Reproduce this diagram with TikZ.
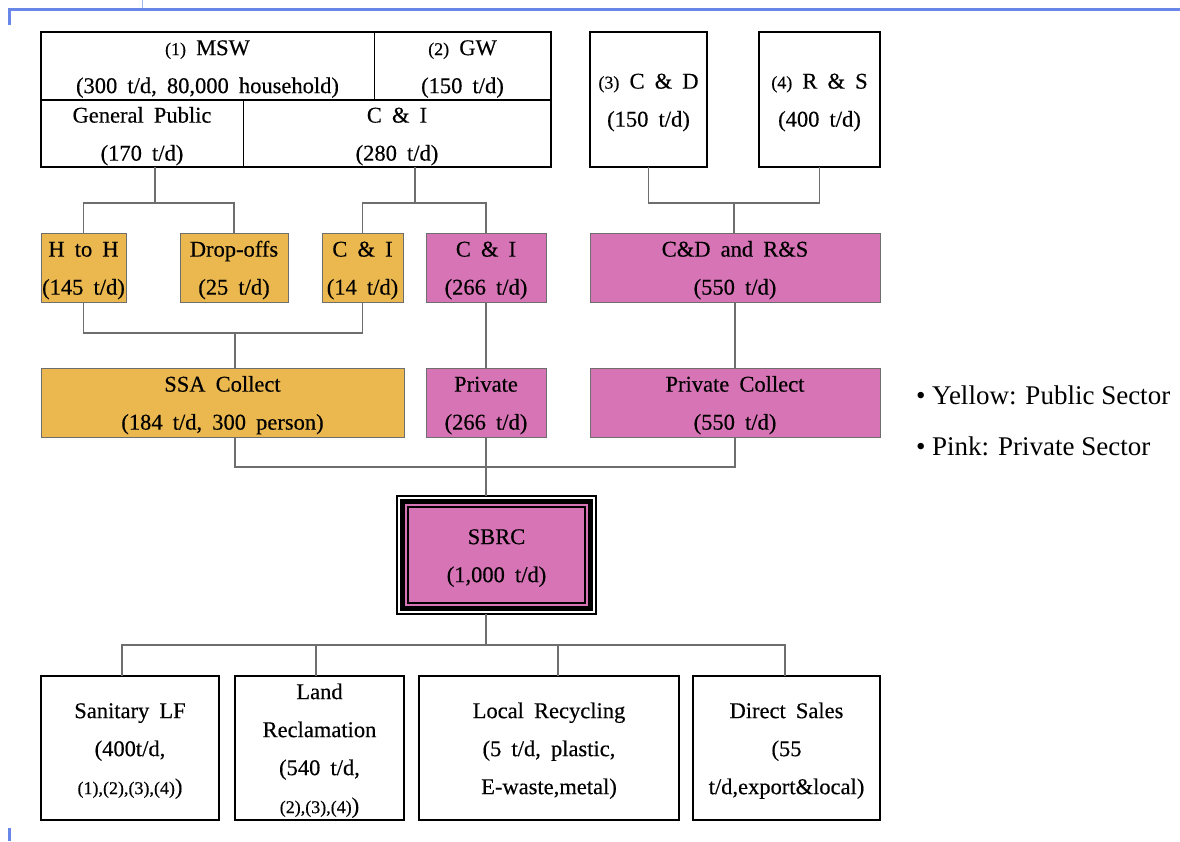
\documentclass[tikz,border=0pt]{standalone}
\usepackage{fontspec}
\setmainfont{Liberation Serif}[WordSpace=1.8, FakeBold=0.4]
\newfontfamily\legendfont{Liberation Serif}
\usetikzlibrary{calc}
\definecolor{pubY}{RGB}{235,184,80}
\definecolor{privP}{RGB}{214,116,182}
\definecolor{frameB}{RGB}{105,135,230}
\definecolor{linkG}{RGB}{110,110,110}
\newcommand{\numf}{\fontsize{18}{38}\selectfont}
\newcommand{\topstrut}{\rule{0pt}{21pt}}
\tikzset{
 every node/.style={inner sep=0pt, outer sep=0pt},
 txt/.style={font=\fontsize{22.5}{38}\selectfont, align=center},
 cell/.style={txt, rectangle},
 box/.style={txt, rectangle, draw=black, line width=2pt},
 ybox/.style={txt, rectangle, draw=linkG, line width=1pt, fill=pubY},
 pbox/.style={txt, rectangle, draw=linkG, line width=1pt, fill=privP},
 conn/.style={draw=linkG, line width=1.2pt},
 legtxt/.style={anchor=west, font=\legendfont\fontsize{27}{30}\selectfont},
}
\begin{document}
\begin{tikzpicture}[x=1pt,y=-1pt]
\useasboundingbox (0,0) rectangle (1180,841);
% page frame marks
\draw[frameB, line width=3pt] (9,25) -- (9,9.5) -- (1180,9.5);
\draw[frameB!60, line width=1pt] (142,0) -- (142,8);
\draw[frameB, line width=3pt] (9,828) -- (9,841);

% top table
\node[cell, minimum width=333, minimum height=68] (MSW) at (207.5,66) {\topstrut{\numf(1)} MSW\\(300 t/d, 80,000 household)};
\node[cell, minimum width=177, minimum height=68] (GW) at (462.5,66) {\topstrut{\numf(2)} GW\\(150 t/d)};
\node[cell, minimum width=202, minimum height=67] (GP) at (142,133.5) {\topstrut General Public\\(170 t/d)};
\node[cell, minimum width=308, minimum height=67] (CI) at (397,133.5) {\topstrut C \& I\\(280 t/d)};
\draw[black, line width=2pt] (MSW.north west) rectangle (CI.south east);
\draw[black, line width=2pt] (MSW.south west) -- (GW.south east);
\draw[black, line width=0.8pt] (MSW.north east) -- (MSW.south east);
\draw[black, line width=0.8pt] (GP.north east) -- (GP.south east);

\node[box, minimum width=117, minimum height=135] (CD) at (648.5,99.5) {\topstrut{\numf(3)} C \& D\\(150 t/d)};
\node[box, minimum width=121, minimum height=135] (RS) at (819.5,99.5) {\topstrut{\numf(4)} R \& S\\(400 t/d)};

% row 2
\node[ybox, minimum width=85, minimum height=69] (HH) at (83.5,267.5) {\topstrut H to H\\(145 t/d)};
\node[ybox, minimum width=108, minimum height=69] (DO) at (234,267.5) {\topstrut Drop-offs\\(25 t/d)};
\node[ybox, minimum width=81, minimum height=69] (CIY) at (362.5,267.5) {\topstrut C \& I\\(14 t/d)};
\node[pbox, minimum width=120, minimum height=69] (CIP) at (486,267.5) {\topstrut C \& I\\(266 t/d)};
\node[pbox, minimum width=290, minimum height=69] (CDRS) at (735,267.5) {\topstrut C\&D and R\&S\\(550 t/d)};

% row 3
\node[ybox, minimum width=363, minimum height=69] (SSA) at (222.5,402.5) {\topstrut SSA Collect\\(184 t/d, 300 person)};
\node[pbox, minimum width=120, minimum height=69] (PRV) at (486,402.5) {\topstrut Private\\(266 t/d)};
\node[pbox, minimum width=290, minimum height=69] (PCO) at (735,402.5) {\topstrut Private Collect\\(550 t/d)};

% SBRC
\node[rectangle, draw=black, line width=2pt, minimum width=199, minimum height=118] (SBRC) at (496.5,555) {};
\fill[privP] ($(SBRC.north west)+(5,5)$) rectangle ($(SBRC.south east)+(-5,-5)$);
\draw[black, line width=4.5pt] ($(SBRC.north west)+(5.5,5.5)$) rectangle ($(SBRC.south east)+(-5.5,-5.5)$);
\draw[black, line width=1.2pt] ($(SBRC.north west)+(11,11)$) rectangle ($(SBRC.south east)+(-11,-11)$);
\node[txt] (SBRCt) at (SBRC.center) {\topstrut SBRC\\(1,000 t/d)};

% bottom row
\node[box, minimum width=178, minimum height=144] (SLF) at (130,748) {\topstrut Sanitary LF\\(400t/d,\\{\numf(1),(2),(3),(4)})};
\node[box, minimum width=169, minimum height=144] (LR) at (319.5,748) {\topstrut Land\\Reclamation\\(540 t/d,\\{\numf(2),(3),(4)})};
\node[box, minimum width=260, minimum height=144] (LRC) at (549,748) {\topstrut Local Recycling\\(5 t/d, plastic,\\E-waste,metal)};
\node[box, minimum width=187, minimum height=144] (DS) at (786.5,748) {\topstrut Direct Sales\\(55\\t/d,export\&local)};

% legend
\node[legtxt] (leg1) at (916,395) {• Yellow: Public Sector};
\node[legtxt] (leg2) at (916,446) {• Pink: Private Sector};

% connectors
\coordinate (f1) at (155,203);
\draw[conn] (GP.south -| f1) -- (f1);
\draw[conn] (HH.north) |- (f1) -| (DO.north);
\coordinate (f2) at (415,203);
\draw[conn] (CI.south -| f2) -- (f2);
\draw[conn] (CIY.north) |- (f2) -| (CIP.north);
\coordinate (f3) at (734,203);
\draw[conn] (CD.south) |- (f3) -| (RS.south);
\draw[conn] (f3) -- (CDRS.north -| f3);

\coordinate (f4) at (235,333);
\draw[conn] (HH.south) |- (f4) -| (CIY.south);
\draw[conn] (f4) -- (SSA.north -| f4);
\draw[conn] (CIP.south) -- (PRV.north);
\draw[conn] (CDRS.south) -- (PCO.north);

\coordinate (f5) at (486,467);
\draw[conn] (SSA.south -| f4) |- (f5) -| (PCO.south);
\draw[conn] (PRV.south) -- (SBRC.north -| PRV.south);

\coordinate (f6) at (486,645);
\coordinate (d1) at ($(SLF.north)+(-8,0)$);
\coordinate (d2) at ($(LR.north)+(-3.5,0)$);
\coordinate (d3) at ($(LRC.north)+(9,0)$);
\coordinate (d4) at ($(DS.north)+(-1.5,0)$);
\draw[conn] (SBRC.south -| f6) -- (f6);
\draw[conn] (d1) |- (f6) -| (d4);
\draw[conn] (d2) -- (d2 |- f6);
\draw[conn] (d3) -- (d3 |- f6);
\end{tikzpicture}
\end{document}
